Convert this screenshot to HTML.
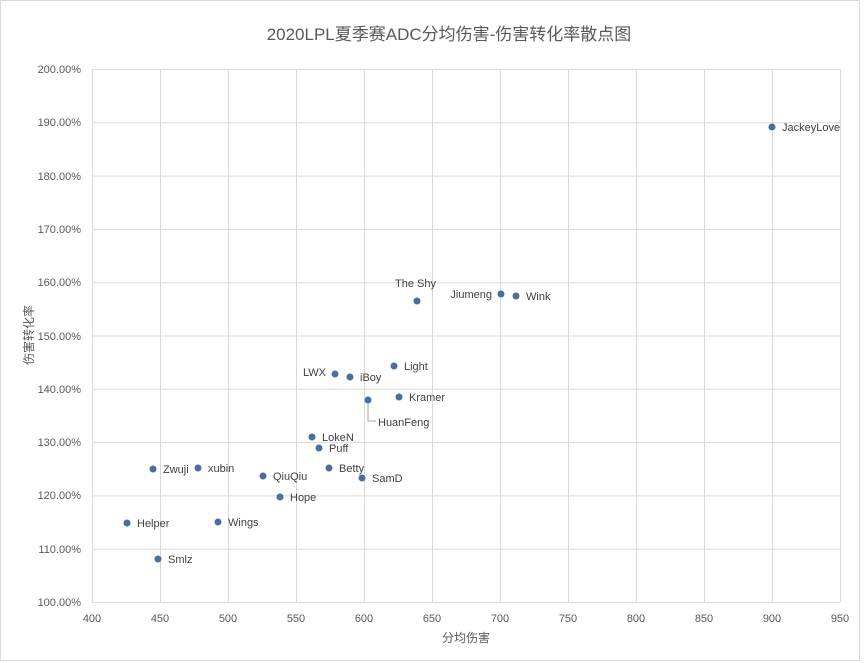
<!DOCTYPE html>
<html><head><meta charset="utf-8"><style>
body{margin:0;background:#fff;}
svg{display:block;font-family:"Liberation Sans","Noto Sans CJK SC",sans-serif;}
</style></head><body>
<svg width="864" height="663" viewBox="0 0 864 663">
<rect x="0.5" y="0.5" width="859" height="660" fill="#fff" stroke="#d9d9d9"/>
<text x="449" y="40" text-anchor="middle" font-size="17" fill="#595959">2020LPL夏季赛ADC分均伤害-伤害转化率散点图</text>
<g stroke="#d9d9d9" stroke-width="1">
<line x1="92" y1="69.5" x2="840" y2="69.5"/><line x1="92" y1="122.8" x2="840" y2="122.8"/>
<line x1="92" y1="176.1" x2="840" y2="176.1"/><line x1="92" y1="229.4" x2="840" y2="229.4"/>
<line x1="92" y1="282.7" x2="840" y2="282.7"/><line x1="92" y1="336" x2="840" y2="336"/>
<line x1="92" y1="389.3" x2="840" y2="389.3"/><line x1="92" y1="442.6" x2="840" y2="442.6"/>
<line x1="92" y1="495.9" x2="840" y2="495.9"/><line x1="92" y1="549.2" x2="840" y2="549.2"/>
<line x1="92" y1="602.5" x2="840" y2="602.5"/>
<line x1="92.5" y1="69" x2="92.5" y2="602"/><line x1="160.5" y1="69" x2="160.5" y2="602"/>
<line x1="228.5" y1="69" x2="228.5" y2="602"/><line x1="296.5" y1="69" x2="296.5" y2="602"/>
<line x1="364.5" y1="69" x2="364.5" y2="602"/><line x1="432.5" y1="69" x2="432.5" y2="602"/>
<line x1="500.5" y1="69" x2="500.5" y2="602"/><line x1="568.5" y1="69" x2="568.5" y2="602"/>
<line x1="636.5" y1="69" x2="636.5" y2="602"/><line x1="704.5" y1="69" x2="704.5" y2="602"/>
<line x1="772.5" y1="69" x2="772.5" y2="602"/><line x1="840.5" y1="69" x2="840.5" y2="602"/>
</g>
<g font-size="11" fill="#595959" text-anchor="end">
<text x="81" y="73">200.00%</text><text x="81" y="126">190.00%</text><text x="81" y="180">180.00%</text>
<text x="81" y="233">170.00%</text><text x="81" y="286">160.00%</text><text x="81" y="340">150.00%</text>
<text x="81" y="393">140.00%</text><text x="81" y="446">130.00%</text><text x="81" y="499">120.00%</text>
<text x="81" y="553">110.00%</text><text x="81" y="606">100.00%</text>
</g>
<g font-size="11" fill="#595959" text-anchor="middle">
<text x="92" y="622">400</text><text x="160" y="622">450</text><text x="228" y="622">500</text>
<text x="296" y="622">550</text><text x="364" y="622">600</text><text x="432" y="622">650</text>
<text x="500" y="622">700</text><text x="568" y="622">750</text><text x="636" y="622">800</text>
<text x="704" y="622">850</text><text x="772" y="622">900</text><text x="840" y="622">950</text>
</g>
<text x="466" y="642" text-anchor="middle" font-size="12" fill="#595959">分均伤害</text>
<text transform="translate(33,335) rotate(-90)" text-anchor="middle" font-size="12" fill="#595959">伤害转化率</text>
<path d="M368 400 V421 H376" fill="none" stroke="#a6a6a6"/>
<g fill="#4a6f9c">
<circle cx="772" cy="127" r="3.5"/><circle cx="417" cy="301" r="3.5"/><circle cx="501" cy="294" r="3.5"/>
<circle cx="516" cy="296" r="3.5"/><circle cx="394" cy="366" r="3.5"/><circle cx="335" cy="374" r="3.5"/>
<circle cx="350" cy="377" r="3.5"/><circle cx="399" cy="397" r="3.5"/><circle cx="368" cy="400" r="3.5"/>
<circle cx="312" cy="437" r="3.5"/><circle cx="319" cy="448" r="3.5"/><circle cx="153" cy="469" r="3.5"/>
<circle cx="198" cy="468" r="3.5"/><circle cx="329" cy="468" r="3.5"/><circle cx="263" cy="476" r="3.5"/>
<circle cx="362" cy="478" r="3.5"/><circle cx="280" cy="497" r="3.5"/><circle cx="127" cy="523" r="3.5"/>
<circle cx="218" cy="522" r="3.5"/><circle cx="158" cy="559" r="3.5"/>
</g>
<g font-size="11" fill="#404040">
<text x="782" y="131">JackeyLove</text>
<text x="395" y="287">The Shy</text>
<text x="492" y="298" text-anchor="end">Jiumeng</text>
<text x="526" y="300">Wink</text>
<text x="404" y="370">Light</text>
<text x="326" y="376" text-anchor="end">LWX</text>
<text x="360" y="381">iBoy</text>
<text x="409" y="401">Kramer</text>
<text x="378" y="426">HuanFeng</text>
<text x="322" y="441">LokeN</text>
<text x="329" y="452">Puff</text>
<text x="163" y="473">Zwuji</text>
<text x="208" y="472">xubin</text>
<text x="339" y="472">Betty</text>
<text x="273" y="480">QiuQiu</text>
<text x="372" y="482">SamD</text>
<text x="290" y="501">Hope</text>
<text x="137" y="527">Helper</text>
<text x="228" y="526">Wings</text>
<text x="168" y="563">Smlz</text>
</g>
</svg>
</body></html>
